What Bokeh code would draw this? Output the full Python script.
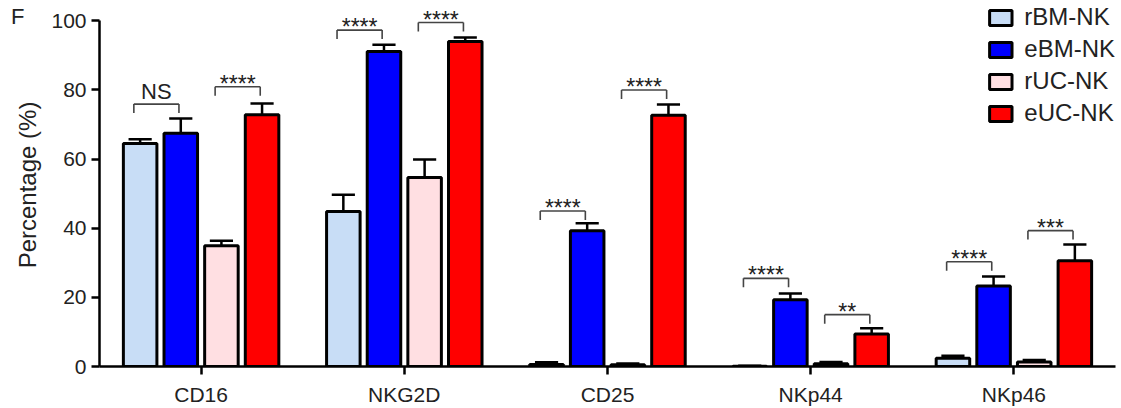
from bokeh.plotting import figure
from bokeh.models import (FactorRange, Range1d, ColumnDataSource, Legend, LegendItem,
                          FixedTicker, LinearAxis, CustomJSTickFormatter)
from bokeh.transform import dodge
from bokeh.core.properties import value
from bokeh.embed import file_html
from bokeh.resources import INLINE

# ---------------- data ----------------
groups = ["CD16", "NKG2D", "CD25", "NKp44", "NKp46"]
series = ["rBM-NK", "eBM-NK", "rUC-NK", "eUC-NK"]

rBM = [64.5, 44.8, 0.6, 0.1, 2.4]
rBM_err = [1.2, 4.9, 0.6, 0.1, 0.7]
eBM = [67.5, 91.1, 39.3, 19.3, 23.3]
eBM_err = [4.2, 2.0, 2.1, 1.8, 2.7]
rUC = [34.9, 54.7, 0.5, 0.8, 1.3]
rUC_err = [1.5, 5.2, 0.4, 0.5, 0.6]
eUC = [72.8, 94.0, 72.7, 9.4, 30.6]
eUC_err = [3.3, 1.2, 3.1, 1.7, 4.7]

# significance: group, first series, second series, bracket level, label
sig_group = ["CD16", "CD16", "NKG2D", "NKG2D", "CD25", "CD25", "NKp44", "NKp44", "NKp46", "NKp46"]
sig_a = [0, 2, 0, 2, 0, 2, 0, 2, 0, 2]
sig_b = [1, 3, 1, 3, 1, 3, 1, 3, 1, 3]
sig_level = [75.9, 80.9, 97.3, 99.5, 45.0, 80.0, 25.5, 15.0, 30.3, 39.3]
sig_text = ["NS", "****", "****", "****", "****", "****", "****", "**", "****", "***"]

y_ticks = [0, 20, 40, 60, 80, 100]
panel_letter = "F"

# ---------------- styling ----------------
FONT = "Liberation Sans"
colors = ["#c8ddf6", "#0000ff", "#ffdfe2", "#ff0000"]
offsets = [-0.3, -0.1, 0.1, 0.3]
bar_w = 0.165
cap_half = 0.057

values = [rBM, eBM, rUC, eUC]
errors = [rBM_err, eBM_err, rUC_err, eUC_err]

p = figure(width=1121, height=408, x_range=FactorRange(*groups), y_range=Range1d(0, 105),
           output_backend="svg", toolbar_location=None,
           min_border_left=99, min_border_right=6, min_border_top=3, min_border_bottom=42)
p.outline_line_color = None
p.xgrid.visible = False
p.ygrid.visible = False
p.background_fill_color = "white"
p.border_fill_color = "white"

renderers = []
for k in range(4):
    centers = [i + 0.5 + offsets[k] for i in range(len(groups))]
    tops = [v + e for v, e in zip(values[k], errors[k])]
    src = ColumnDataSource(dict(g=groups, v=values[k], top=tops, xc=centers,
                                xl=[c - cap_half for c in centers],
                                xr=[c + cap_half for c in centers]))
    # error bars (upper only)
    p.segment(x0="xc", y0="v", x1="xc", y1="top", source=src, line_color="black", line_width=2.5)
    p.segment(x0="xl", y0="top", x1="xr", y1="top", source=src, line_color="black", line_width=2.5)
    r = p.vbar(x=dodge("g", offsets[k], range=p.x_range), top="v", width=bar_w, source=src,
               fill_color=colors[k], line_color="black", line_width=3)
    renderers.append(r)

# significance brackets
gi = {g: i for i, g in enumerate(groups)}
bx0, bx1, by, tx = [], [], [], []
for g, a, b, lvl in zip(sig_group, sig_a, sig_b, sig_level):
    c = gi[g] + 0.5
    left = c + offsets[a] - 0.031
    right = c + offsets[b] - 0.009
    bx0.append(left)
    bx1.append(right)
    by.append(lvl)
    tx.append((left + right) / 2)
leg_drop = 2.6
bsrc = ColumnDataSource(dict(x0=bx0, x1=bx1, y=by, yl=[v - leg_drop for v in by], tx=tx, t=sig_text))
p.segment(x0="x0", y0="y", x1="x1", y1="y", source=bsrc, line_color="#444444", line_width=1.6)
p.segment(x0="x0", y0="y", x1="x0", y1="yl", source=bsrc, line_color="#444444", line_width=1.6)
p.segment(x0="x1", y0="y", x1="x1", y1="yl", source=bsrc, line_color="#444444", line_width=1.6)

stars = ColumnDataSource(dict(tx=[x for x, t in zip(tx, sig_text) if t != "NS"],
                              y=[v for v, t in zip(by, sig_text) if t != "NS"],
                              t=[t for t in sig_text if t != "NS"]))
ns = ColumnDataSource(dict(tx=[x for x, t in zip(tx, sig_text) if t == "NS"],
                           y=[v for v, t in zip(by, sig_text) if t == "NS"],
                           t=[t for t in sig_text if t == "NS"]))
p.text(x="tx", y="y", text="t", source=stars, text_align="center", text_baseline="alphabetic",
       y_offset=-3, text_font=value(FONT), text_font_size="23px", text_color="#222222")
p.text(x="tx", y="y", text="t", source=ns, text_align="center", text_baseline="alphabetic",
       y_offset=-13, text_font=value(FONT), text_font_size="22px", text_color="#222222")

# axes
yax = p.yaxis[0]
yax.ticker = FixedTicker(ticks=y_ticks)
yax.bounds = (0, 100)
yax.axis_label = "Percentage (%)"
yax.axis_label_text_font = FONT
yax.axis_label_text_font_size = "24px"
yax.axis_label_text_font_style = "normal"
yax.axis_label_text_color = "#222222"
yax.axis_label_standoff = 7
yax.major_label_text_font = FONT
yax.major_label_text_font_size = "21px"
yax.major_label_text_color = "#222222"
yax.major_label_standoff = 5
yax.minor_tick_line_color = None
yax.major_tick_in = 0
yax.major_tick_out = 8
yax.major_tick_line_width = 2.5
yax.axis_line_width = 2.5

xax = p.xaxis[0]
xax.major_label_text_font = FONT
xax.major_label_text_font_size = "21px"
xax.major_label_text_color = "#222222"
xax.major_label_standoff = 8
xax.major_tick_in = 0
xax.major_tick_out = 8
xax.major_tick_line_width = 2.5
xax.axis_line_width = 2.5
xax.minor_tick_line_color = None

# panel letter, drawn as the single label of an extra, line-less axis at the far left
letter_axis = LinearAxis(ticker=FixedTicker(ticks=[101.2]),
                         formatter=CustomJSTickFormatter(args=dict(t=panel_letter), code="return t"),
                         axis_line_color=None, major_tick_line_color=None, minor_tick_line_color=None,
                         major_tick_in=0, major_tick_out=0, major_label_standoff=-13,
                         major_label_text_font=FONT, major_label_text_font_size="22px",
                         major_label_text_color="#222222")
p.add_layout(letter_axis, "left")

legend = Legend(items=[LegendItem(label=s, renderers=[r]) for s, r in zip(series, renderers)],
                location="top_right", glyph_width=28, glyph_height=19, label_height=27,
                label_standoff=10, spacing=4, padding=6, margin=0,
                label_text_font=FONT, label_text_font_size="24px", label_text_color="#222222",
                border_line_color=None, background_fill_alpha=0)
p.add_layout(legend)

open("out.html", "w").write(file_html(p, INLINE))
